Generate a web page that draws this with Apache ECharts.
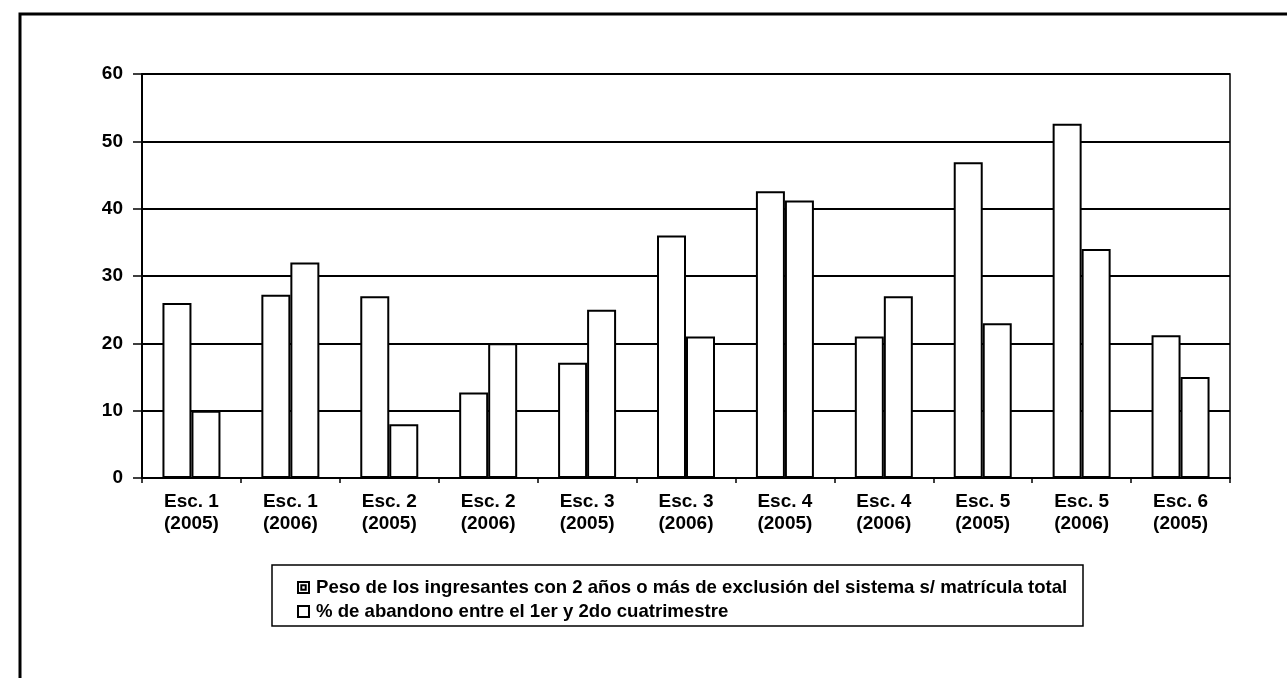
<!DOCTYPE html>
<html>
<head>
<meta charset="utf-8">
<script src="https://cdn.jsdelivr.net/npm/echarts@6/dist/echarts.min.js"></script>
<style>
html,body{margin:0;padding:0;background:#fff;}
#c{width:1287px;height:678px;}
</style>
</head>
<body>
<div id="c"></div>
<script>
const categories = ['Esc. 1\n(2005)','Esc. 1\n(2006)','Esc. 2\n(2005)','Esc. 2\n(2006)','Esc. 3\n(2005)','Esc. 3\n(2006)','Esc. 4\n(2005)','Esc. 4\n(2006)','Esc. 5\n(2005)','Esc. 5\n(2006)','Esc. 6\n(2005)'];
const seriesNames = ['Peso de los ingresantes con 2 años o más de exclusión del sistema s/ matrícula total','% de abandono entre el 1er y 2do cuatrimestre'];
const pesoIngresantes = [26, 27.2, 27, 12.7, 17.1, 36, 42.6, 21, 46.9, 52.6, 21.2];
const abandono = [10, 32, 8, 20, 25, 21, 41.2, 27, 23, 34, 15];
const yTicks = {min: 0, max: 60, interval: 10};

const chart = echarts.init(document.getElementById('c'));
const font = '"Liberation Sans", Arial, sans-serif';
chart.setOption({
  backgroundColor: '#fff',
  animation: false,
  grid: {left: 142, right: 57, top: 74, bottom: 200, show: true, borderColor: '#000', borderWidth: 1.5, backgroundColor: 'transparent'},
  xAxis: {
    type: 'category', data: categories,
    axisLine: {lineStyle: {color: '#000', width: 2}},
    axisTick: {show: true, length: 5, lineStyle: {color: '#000', width: 1.5}},
    axisLabel: {color: '#000', fontFamily: font, fontSize: 19, fontWeight: 'bold', lineHeight: 22, margin: 13, interval: 0}
  },
  yAxis: {
    type: 'value', min: yTicks.min, max: yTicks.max, interval: yTicks.interval,
    axisLine: {show: true, lineStyle: {color: '#000', width: 2}},
    axisTick: {show: true, length: 9, lineStyle: {color: '#000', width: 1.5}},
    axisLabel: {color: '#000', fontFamily: font, fontSize: 19, fontWeight: 'bold', margin: 19},
    splitLine: {show: true, lineStyle: {color: '#000', width: 1.8}}
  },
  legend: {
    orient: 'vertical', left: 297, top: 578, padding: 0,
    itemWidth: 11, itemHeight: 11, itemGap: 5,
    textStyle: {color: '#000', fontFamily: font, fontSize: 18.6, fontWeight: 'bold', padding: [0, 0, 0, 2]},
    data: [
      {name: seriesNames[0], icon: 'path://M0,0H10V10H0Z M3,3H7V7H3Z'},
      {name: seriesNames[1], icon: 'rect'}
    ]
  },
  series: [
    {name: seriesNames[0], type: 'bar', data: pesoIngresantes, barWidth: 29, barGap: '0%',
     itemStyle: {color: '#fff', borderColor: '#000', borderWidth: 2}},
    {name: seriesNames[1], type: 'bar', data: abandono, barWidth: 29, barGap: '0%',
     itemStyle: {color: '#fff', borderColor: '#000', borderWidth: 2}}
  ],
  graphic: [
    {type: 'rect', shape: {x: 20, y: 14, width: 1300, height: 700}, style: {fill: 'none', stroke: '#000', lineWidth: 3}, silent: true},
    {type: 'rect', shape: {x: 272, y: 565, width: 811, height: 61}, style: {fill: 'none', stroke: '#000', lineWidth: 1.5}, silent: true, z: -1}
  ]
});
</script>
</body>
</html>
